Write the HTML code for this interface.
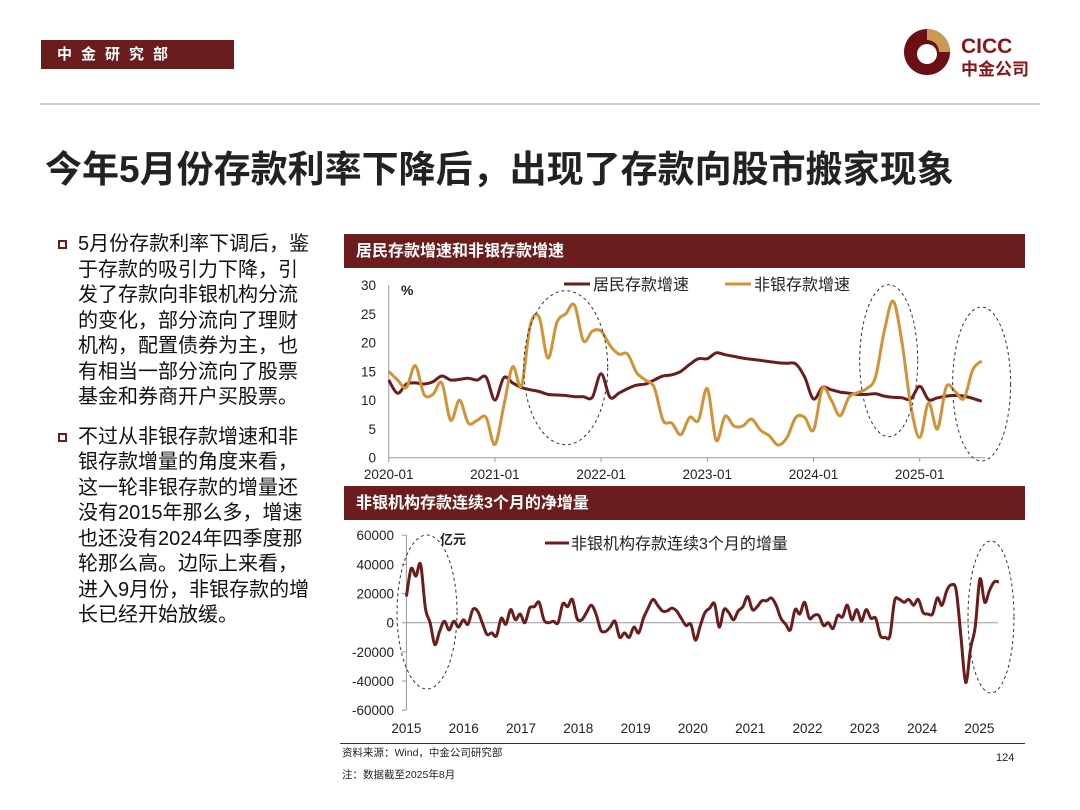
<!DOCTYPE html>
<html><head><meta charset="utf-8">
<style>
body{margin:0;background:#fff;font-family:"Liberation Sans","Noto Sans CJK SC",sans-serif;}
#wrap{position:relative;width:1080px;height:810px;overflow:hidden;background:#fff;}
.abs{position:absolute;}
.bar{background:#6b1d1d;color:#fff;font-weight:bold;}
.left p{margin:0;font-size:20px;line-height:25.5px;color:#111;position:relative;padding-left:20px;white-space:nowrap;}
.left .b{position:absolute;left:0;top:8px;width:9px;height:9px;border:2px solid #6b1d1d;box-sizing:border-box;}
</style></head><body>
<div id="wrap">
<div class="abs bar" style="left:41px;top:40px;width:193px;height:29px;font-size:15px;line-height:29px;letter-spacing:9px;padding-left:16px;box-sizing:border-box;">中金研究部</div>
<svg class="abs" style="left:895px;top:25px" width="160" height="60">
<circle cx="32" cy="27" r="23" fill="#6b0f12"/>
<path d="M32 4 A23 23 0 0 1 55 27 L44 27 A12 12 0 0 0 32 15 Z" fill="#c89a55"/>
<circle cx="32" cy="29" r="10" fill="#fff"/>
<text x="66" y="28" font-size="21" font-weight="bold" fill="#8b1418" font-family="Liberation Sans, sans-serif">CICC</text>
<text x="66" y="50" font-size="17" font-weight="bold" fill="#8b1418" font-family="Liberation Sans, Noto Sans CJK SC, sans-serif">中金公司</text>
</svg>
<div class="abs" style="left:40px;top:103px;width:1000px;height:2px;background:#ccc"></div>
<div class="abs" style="left:45px;top:139px;font-size:37px;font-weight:bold;color:#222;white-space:nowrap;">今年5月份存款利率下降后，出现了存款向股市搬家现象</div>
<div class="abs left" style="left:58px;top:232px;width:260px;">
<p><span class="b"></span>5月份存款利率下调后，鉴<br>于存款的吸引力下降，引<br>发了存款向非银机构分流<br>的变化，部分流向了理财<br>机构，配置债券为主，也<br>有相当一部分流向了股票<br>基金和券商开户买股票。</p>
<p style="margin-top:14px"><span class="b"></span>不过从非银存款增速和非<br>银存款增量的角度来看，<br>这一轮非银存款的增量还<br>没有2015年那么多，增速<br>也还没有2024年四季度那<br>轮那么高。边际上来看，<br>进入9月份，非银存款的增<br>长已经开始放缓。</p>
</div>
<div class="abs bar" style="left:344px;top:234px;width:681px;height:34px;font-size:16px;line-height:36px;padding-left:12px;box-sizing:border-box;">居民存款增速和非银存款增速</div>
<div class="abs bar" style="left:344px;top:486px;width:681px;height:34px;font-size:16px;line-height:36px;padding-left:12px;box-sizing:border-box;">非银机构存款连续3个月的净增量</div>
<div class="abs" style="left:340px;top:743px;width:685px;height:1px;background:#6b1d1d"></div>
<div class="abs" style="left:342px;top:745px;font-size:10.5px;color:#222">资料来源：Wind，中金公司研究部</div>
<div class="abs" style="left:342px;top:767px;font-size:10.5px;color:#222">注：数据截至2025年8月</div>
<div class="abs" style="left:996px;top:752px;font-size:11px;color:#222">124</div>
<svg id="c" class="abs" style="left:0;top:0" width="1080" height="810"></svg>
</div>
<script>
const topLabels=["2020-01","2021-01","2022-01","2023-01","2024-01","2025-01"];
const topTicks=[0,5,10,15,20,25,30];
const household=[13.5,11.2,12.8,13.0,12.8,13.2,14.2,13.5,13.6,13.8,13.5,14.0,
10.0,13.9,13.0,12.2,11.8,11.5,11.0,10.9,10.8,10.6,10.6,10.5,
14.6,10.5,11.2,12.0,12.6,12.8,13.5,14.2,14.4,15.0,16.2,17.2,
17.2,18.2,17.9,17.6,17.3,17.1,16.9,16.7,16.5,16.4,16.3,14.0,
10.2,12.2,11.8,11.4,11.2,11.0,11.0,11.1,10.7,10.5,10.4,10.2,
12.4,10.1,10.4,10.7,10.8,10.7,10.3,9.8];
const nonbank=[15.0,13.5,12.2,16.0,11.0,11.0,13.0,6.5,10.0,6.0,6.5,7.0,
2.3,9.0,15.8,12.5,23.0,24.4,17.3,23.5,25.0,26.5,20.3,22.0,
22.0,19.5,18.0,18.0,14.8,13.5,12.2,6.5,6.0,4.0,7.0,6.5,
12.0,3.0,7.2,5.5,5.5,6.7,4.8,3.8,2.2,3.5,7.0,7.0,
4.8,12.0,10.0,7.3,10.5,11.3,12.0,14.0,22.0,27.2,20.0,9.0,
3.5,9.5,5.0,12.3,11.5,10.3,15.3,16.8];
const botLabels=["2015","2016","2017","2018","2019","2020","2021","2022","2023","2024","2025"];
const botTicks=[60000,40000,20000,0,-20000,-40000,-60000];
const flow3m=[18,37,32,40,10,0,-15,-6,1,-5,1,-3,2,-1,9,8,0,-8,-7,-9,3,-1,9,2,6,0,10,11,14,2,0,1,0,13,11,16,3,2,7,12,6,-5,-6,-3,1,-10,-7,-10,-3,-7,3,10,16,12,8,8,10,8,3,-2,-1,-12,-2,7,10,13,-3,9,7,2,8,11,18,9,11,15,15,17,12,3,-1,-5,9,6,14,3,5,5,-2,0,-4,5,4,12,2,9,1,9,3,3,-9,-10,-9,15,16,14,16,12,16,7,6,6,17,12,22,26,22,-10,-41,-18,-3,30,14,22,28,28].map(v=>v*1000);

const svg=document.getElementById('c');
const NS='http://www.w3.org/2000/svg';
function mk(t,a,p){const e=document.createElementNS(NS,t);for(const k in a)e.setAttribute(k,a[k]);(p||svg).appendChild(e);return e;}
const F='Liberation Sans, Noto Sans CJK SC, sans-serif';

const x1=m=>388.7+m*106.2/12, y1=v=>457.7-v*172.7/30;
mk('line',{x1:388.7,y1:285,x2:388.7,y2:457.7,stroke:'#999'});
mk('line',{x1:388.7,y1:457.7,x2:985,y2:457.7,stroke:'#999'});
topTicks.forEach(v=>{const t=mk('text',{x:376,y:y1(v)+5,'text-anchor':'end','font-size':13.5,fill:'#222','font-family':F});t.textContent=v;
});
topLabels.forEach((l,i)=>{const x=x1(i*12);mk('line',{x1:x,y1:457.7,x2:x,y2:462,stroke:'#999'});
const t=mk('text',{x:x,y:479,'text-anchor':'middle','font-size':13.5,fill:'#222','font-family':F});t.textContent=l;
});
const pct=mk('text',{x:401,y:295,'font-size':14,'font-weight':'bold',fill:'#222','font-family':F});pct.textContent='%';
function line(arr,fx,fy,col,name){
const P=arr.map((v,i)=>[fx(i),fy(v)]);
let d='M'+P[0][0].toFixed(1)+' '+P[0][1].toFixed(1);
for(let i=0;i<P.length-1;i++){const p0=P[i-1]||P[i],p1=P[i],p2=P[i+1],p3=P[i+2]||P[i+1];
const c1=[p1[0]+(p2[0]-p0[0])/6,p1[1]+(p2[1]-p0[1])/6],c2=[p2[0]-(p3[0]-p1[0])/6,p2[1]-(p3[1]-p1[1])/6];
d+='C'+c1[0].toFixed(1)+' '+c1[1].toFixed(1)+' '+c2[0].toFixed(1)+' '+c2[1].toFixed(1)+' '+p2[0].toFixed(1)+' '+p2[1].toFixed(1);}
const p=mk('path',{d:d,fill:'none',stroke:col,'stroke-width':3,'stroke-linejoin':'round'});
}
line(household,x1,y1,'#6b1d1d','household-deposit-line');
line(nonbank,x1,y1,'#d19238','nonbank-deposit-line');
mk('line',{x1:564,y1:284,x2:590,y2:284,stroke:'#6b1d1d','stroke-width':3});
let lt=mk('text',{x:593,y:290,'font-size':16,fill:'#222','font-family':F});lt.textContent='居民存款增速';

mk('line',{x1:725,y1:284,x2:751,y2:284,stroke:'#d19238','stroke-width':3});
lt=mk('text',{x:754,y:290,'font-size':16,fill:'#222','font-family':F});lt.textContent='非银存款增速';

[[565.7,367.7,42,77],[888.7,360.7,29,76],[981.6,384,29,77]].forEach(e=>{const el=mk('ellipse',{cx:e[0],cy:e[1],rx:e[2],ry:e[3],fill:'none',stroke:'#333','stroke-dasharray':'3,3','stroke-width':1});
});

const x2=m=>406.4+m*4.74, y2=v=>622.7-v*87.5/60000;
mk('line',{x1:406.4,y1:535,x2:406.4,y2:710,stroke:'#999'});
mk('line',{x1:406.4,y1:622.7,x2:998,y2:622.7,stroke:'#999'});
botTicks.forEach(v=>{mk('line',{x1:402,y1:y2(v),x2:406.4,y2:y2(v),stroke:'#999'});
const t=mk('text',{x:394,y:y2(v)+5,'text-anchor':'end','font-size':13.5,fill:'#222','font-family':F});t.textContent=v;
});
botLabels.forEach((l,i)=>{const x=406.4+i*57.3;
const t=mk('text',{x:x,y:733,'text-anchor':'middle','font-size':13.5,fill:'#222','font-family':F});t.textContent=l;
});
const unit=mk('text',{x:440,y:544,'font-size':13,'font-weight':'bold',fill:'#222','font-family':F});unit.textContent='亿元';
line(flow3m,x2,y2,'#6b1d1d','nonbank-3m-flow-line');
mk('line',{x1:545,y1:543,x2:569,y2:543,stroke:'#6b1d1d','stroke-width':3});
lt=mk('text',{x:571,y:549,'font-size':16,fill:'#222','font-family':F});lt.textContent='非银机构存款连续3个月的增量';

[[427,612,30,77],[991,617,23,76]].forEach(e=>{const el=mk('ellipse',{cx:e[0],cy:e[1],rx:e[2],ry:e[3],fill:'none',stroke:'#333','stroke-dasharray':'3,3','stroke-width':1});
});
</script>
</body></html>
